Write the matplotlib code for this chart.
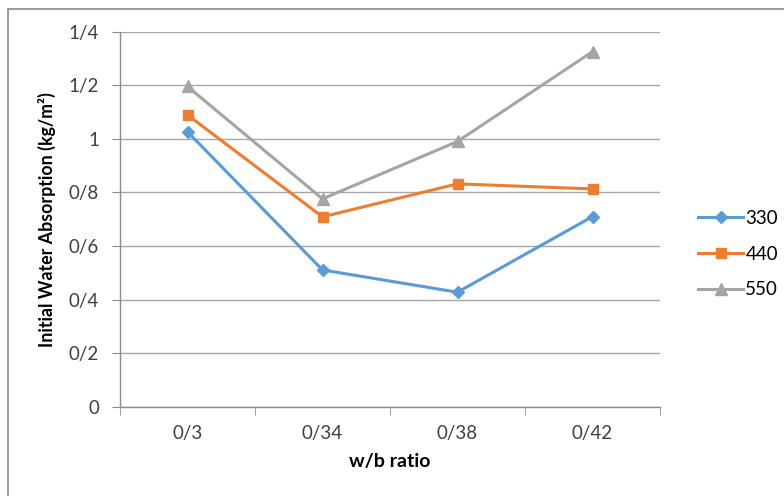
import matplotlib
matplotlib.use("Agg")
import matplotlib.pyplot as plt
from matplotlib.patches import Rectangle
import numpy as np

# data
wb_labels = ["0/3", "0/34", "0/38", "0/42"]
s330 = [1.026, 0.511, 0.428, 0.71]
s440 = [1.089, 0.709, 0.832, 0.813]
s550 = [1.195, 0.776, 0.99, 1.325]
y_ticks = [0, 0.2, 0.4, 0.6, 0.8, 1.0, 1.2, 1.4]
y_labels = ["0", "0/2", "0/4", "0/6", "0/8", "1", "1/2", "1/4"]

plt.rcParams['font.family'] = ['Lato', 'DejaVu Sans']

W, H = 784, 496
fig = plt.figure(figsize=(W / 100, H / 100), dpi=100)
ax = fig.add_axes([120 / W, 1 - 407 / H, 540 / W, (407 - 31.5) / H])

# outer chart frame (right and bottom fall outside the image)
fig.patches.append(Rectangle((8 / W, -0.1), 1.2, 1 - 9 / H + 0.1, transform=fig.transFigure,
                             fill=False, edgecolor='#878787', linewidth=1.2))

x = np.arange(len(wb_labels))
ax.plot(x, s330, color='#5b9bd5', marker='D', markersize=6, linewidth=2.2, label='330')
ax.plot(x, s440, color='#ed7d31', marker='s', markersize=7, linewidth=2.2, label='440')
ax.plot(x, s550, color='#a5a5a5', marker='^', markersize=8, linewidth=2.2, label='550')

ax.set_xlim(-0.5, 3.5)
ax.set_ylim(0, 1.4)
ax.set_yticks(y_ticks)
ax.set_yticklabels(y_labels)
ax.set_xticks(x)
ax.set_xticklabels(wb_labels)
ax.set_xticks(np.arange(-0.5, 4, 1), minor=True)
ax.tick_params(axis='x', which='major', length=0, pad=13, labelsize=13.5, labelcolor='#404040')
ax.tick_params(axis='x', which='minor', length=6, color='#8c8c8c', direction='out')
ax.tick_params(axis='y', length=6, color='#8c8c8c', pad=9, labelsize=13.5, labelcolor='#404040')

ax.grid(axis='y', color='#a6a6a6', linewidth=1)
ax.set_axisbelow(True)
for side in ['top', 'right']:
    ax.spines[side].set_visible(False)
for side in ['left', 'bottom']:
    ax.spines[side].set_color('#8c8c8c')
    ax.spines[side].set_linewidth(1)

ax.set_xlabel('w/b ratio', fontweight='bold', fontsize=14, labelpad=8)
ax.set_ylabel('Initial Water Absorption (kg/m²)', fontweight='bold', fontsize=12.8, labelpad=9)

ax.legend(loc='center left', bbox_to_anchor=(1.04, 0.407), frameon=False, fontsize=13.5,
          handlelength=2.4, labelspacing=1.0, handletextpad=0.1)

fig.savefig('out.png', dpi=100)
